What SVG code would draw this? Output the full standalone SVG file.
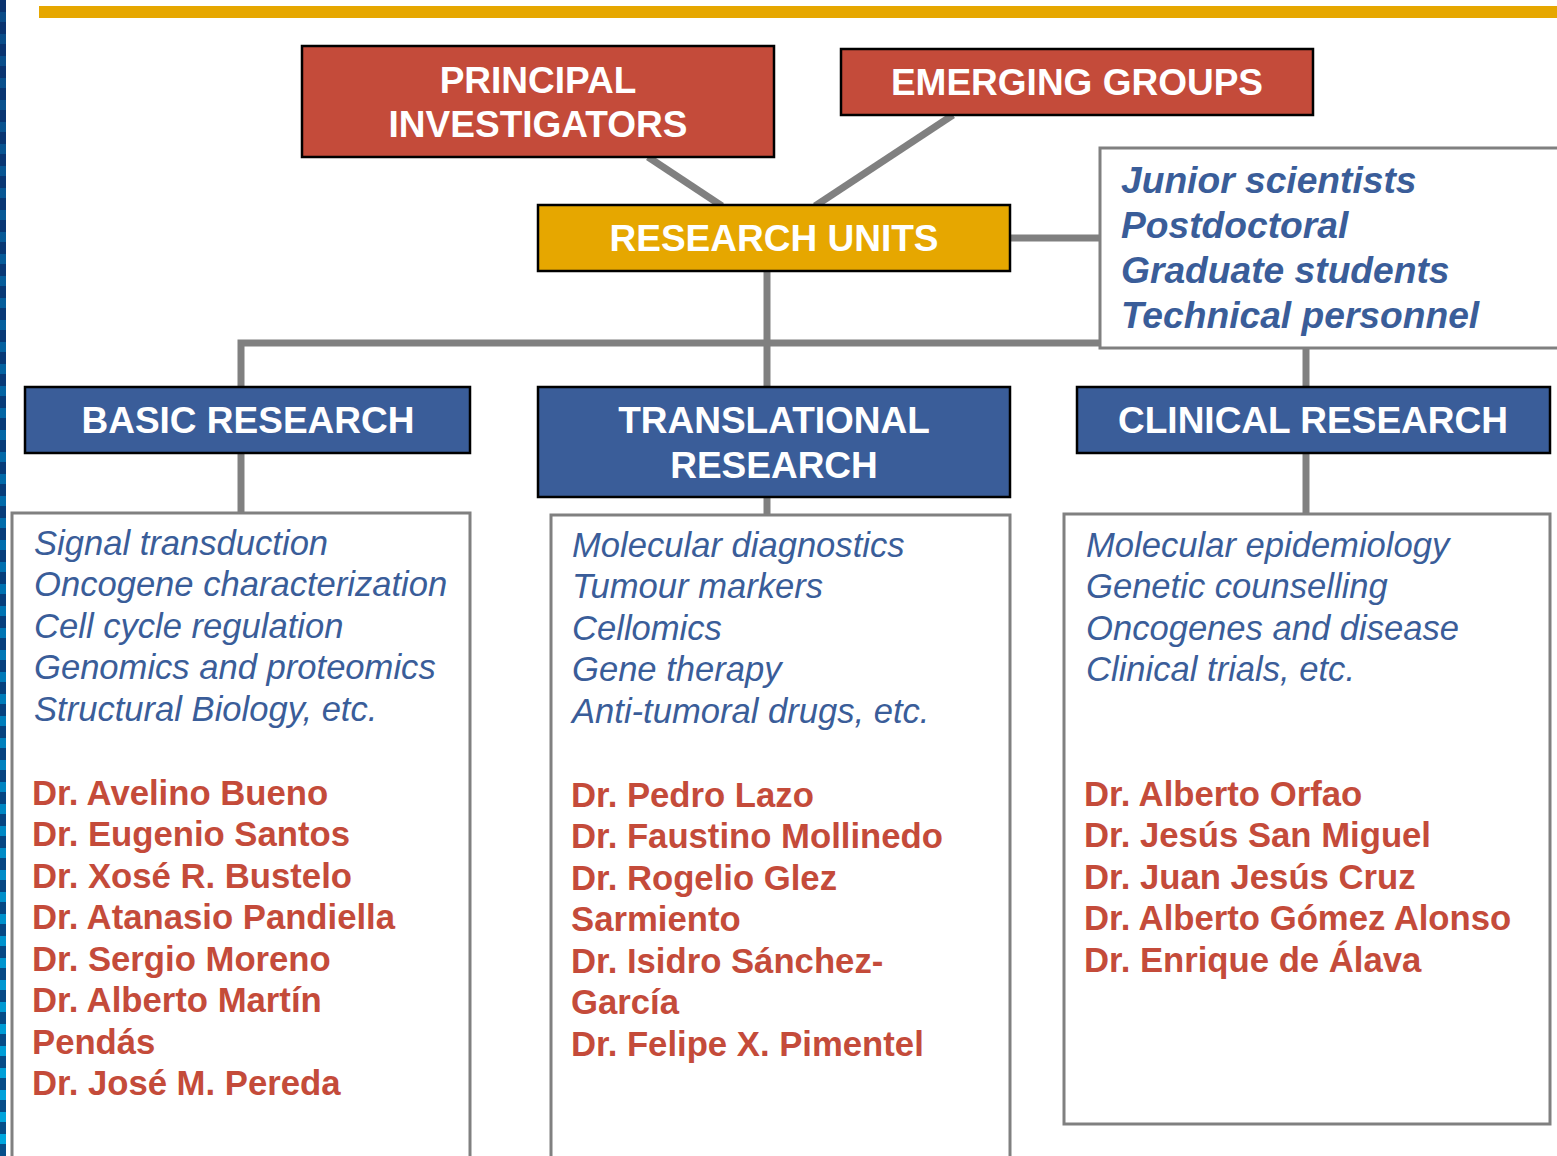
<svg xmlns="http://www.w3.org/2000/svg" width="1557" height="1156" viewBox="0 0 1557 1156">
<style>
.hdr{fill:#fff;font-family:"Liberation Sans",Arial,sans-serif;font-weight:bold;font-size:37px;text-anchor:middle}
.red{fill:#C44B3A;stroke:#000;stroke-width:2.5}
.gold{fill:#E6A700;stroke:#000;stroke-width:2.5}
.blue{fill:#3A5D99;stroke:#000;stroke-width:2.5}
.box{fill:#fff;stroke:#808080;stroke-width:3}
.conn{stroke:#808080;stroke-width:7;fill:none}
.staff{fill:#3A5D99;font-family:"Liberation Sans",Arial,sans-serif;font-weight:bold;font-style:italic;font-size:37.2px}
.topic{fill:#3A5D99;font-family:"Liberation Sans",Arial,sans-serif;font-style:italic;font-size:34.6px}
.name{fill:#C44B3A;font-family:"Liberation Sans",Arial,sans-serif;font-weight:bold;font-size:34.7px}
</style>
<defs>
<linearGradient id="stripe" x1="0" y1="0" x2="0" y2="1">
<stop offset="0" stop-color="#0B4A86"/>
<stop offset="0.5" stop-color="#0070B0"/>
<stop offset="1" stop-color="#00A8E0"/>
</linearGradient>
</defs>
<rect x="0" y="0" width="1557" height="1156" fill="#fff"/>
<rect x="0" y="0" width="6" height="1156" fill="url(#stripe)"/>
<line x1="3" y1="0" x2="3" y2="1156" stroke="#0A2A66" stroke-width="6" stroke-dasharray="12,10" opacity="0.7"/>
<rect x="39" y="6" width="1518" height="12" fill="#E6A700"/>

<g id="connectors">
<line class="conn" x1="648" y1="157" x2="722" y2="206"/>
<line class="conn" x1="953" y1="115" x2="815" y2="206"/>
<line class="conn" x1="767" y1="271" x2="767" y2="387"/>
<line class="conn" x1="1010" y1="238" x2="1100" y2="238"/>
<polyline class="conn" points="241,387 241,343 1100,343"/>
<line class="conn" x1="241" y1="453" x2="241" y2="513"/>
<line class="conn" x1="767" y1="497" x2="767" y2="515"/>
<line class="conn" x1="1306" y1="348" x2="1306" y2="387"/>
<line class="conn" x1="1306" y1="453" x2="1306" y2="514"/>
</g>

<g id="principal-investigators">
<rect class="red" x="302" y="46" width="472" height="111"/>
<text class="hdr" x="538" y="93">PRINCIPAL</text>
<text class="hdr" x="538" y="137">INVESTIGATORS</text>
</g>
<g id="emerging-groups">
<rect class="red" x="841" y="49" width="472" height="66"/>
<text class="hdr" x="1077" y="95">EMERGING GROUPS</text>
</g>
<g id="research-units">
<rect class="gold" x="538" y="205" width="472" height="66"/>
<text class="hdr" x="774" y="251">RESEARCH UNITS</text>
</g>
<g id="staff">
<rect class="box" x="1100" y="148" width="470" height="200"/>
<text class="staff" x="1121" y="193">Junior scientists</text>
<text class="staff" x="1121" y="238">Postdoctoral</text>
<text class="staff" x="1121" y="283">Graduate students</text>
<text class="staff" x="1121" y="328">Technical personnel</text>
</g>

<g id="basic-research">
<rect class="blue" x="25" y="387" width="445" height="66"/>
<text class="hdr" x="248" y="433">BASIC RESEARCH</text>
</g>
<g id="translational-research">
<rect class="blue" x="538" y="387" width="472" height="110"/>
<text class="hdr" x="774" y="433">TRANSLATIONAL</text>
<text class="hdr" x="774" y="478">RESEARCH</text>
</g>
<g id="clinical-research">
<rect class="blue" x="1077" y="387" width="473" height="66"/>
<text class="hdr" x="1313" y="433">CLINICAL RESEARCH</text>
</g>

<g id="basic-content">
<rect class="box" x="12" y="513" width="458" height="660"/>
<text class="topic" x="34" y="555">Signal transduction</text>
<text class="topic" x="34" y="596">Oncogene characterization</text>
<text class="topic" x="34" y="638">Cell cycle regulation</text>
<text class="topic" x="34" y="679">Genomics and proteomics</text>
<text class="topic" x="34" y="721">Structural Biology, etc.</text>
<text class="name" x="32" y="805">Dr. Avelino Bueno</text>
<text class="name" x="32" y="846">Dr. Eugenio Santos</text>
<text class="name" x="32" y="888">Dr. Xosé R. Bustelo</text>
<text class="name" x="32" y="929">Dr. Atanasio Pandiella</text>
<text class="name" x="32" y="971">Dr. Sergio Moreno</text>
<text class="name" x="32" y="1012">Dr. Alberto Martín</text>
<text class="name" x="32" y="1054">Pendás</text>
<text class="name" x="32" y="1095">Dr. José M. Pereda</text>
</g>

<g id="translational-content">
<rect class="box" x="551" y="515" width="459" height="660"/>
<text class="topic" x="572" y="557">Molecular diagnostics</text>
<text class="topic" x="572" y="598">Tumour markers</text>
<text class="topic" x="572" y="640">Cellomics</text>
<text class="topic" x="572" y="681">Gene therapy</text>
<text class="topic" x="572" y="723">Anti-tumoral drugs, etc.</text>
<text class="name" x="571" y="807">Dr. Pedro Lazo</text>
<text class="name" x="571" y="848">Dr. Faustino Mollinedo</text>
<text class="name" x="571" y="890">Dr. Rogelio Glez</text>
<text class="name" x="571" y="931">Sarmiento</text>
<text class="name" x="571" y="973">Dr. Isidro Sánchez-</text>
<text class="name" x="571" y="1014">García</text>
<text class="name" x="571" y="1056">Dr. Felipe X. Pimentel</text>
</g>

<g id="clinical-content">
<rect class="box" x="1064" y="514" width="486" height="610"/>
<text class="topic" x="1086" y="557">Molecular epidemiology</text>
<text class="topic" x="1086" y="598">Genetic counselling</text>
<text class="topic" x="1086" y="640">Oncogenes and disease</text>
<text class="topic" x="1086" y="681">Clinical trials, etc.</text>
<text class="name" x="1084" y="806">Dr. Alberto Orfao</text>
<text class="name" x="1084" y="847">Dr. Jesús San Miguel</text>
<text class="name" x="1084" y="889">Dr. Juan Jesús Cruz</text>
<text class="name" x="1084" y="930">Dr. Alberto Gómez Alonso</text>
<text class="name" x="1084" y="972">Dr. Enrique de Álava</text>
</g>
</svg>
